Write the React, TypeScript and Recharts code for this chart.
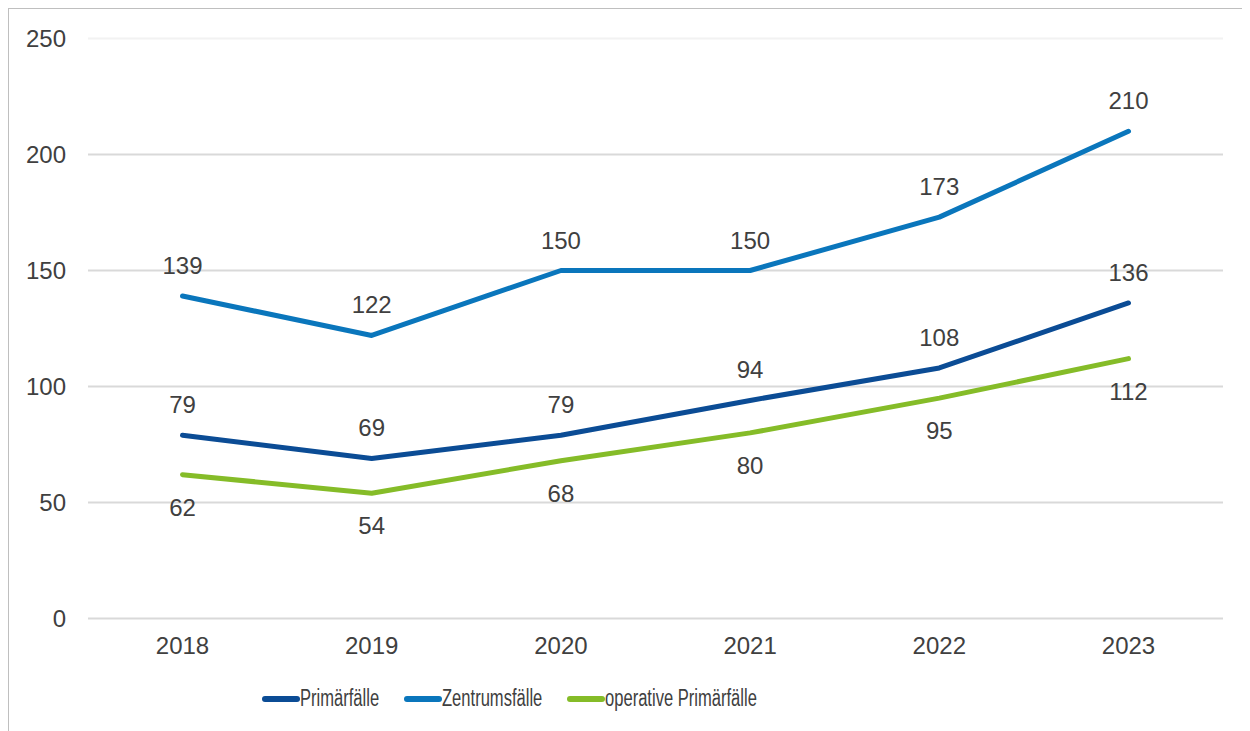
import { LineChart, Line, XAxis, YAxis, CartesianGrid, LabelList } from 'recharts'

// ── Data ───────────────────────────────────────────────────────
const years = ['2018', '2019', '2020', '2021', '2022', '2023']
const primaerfaelle = [79, 69, 79, 94, 108, 136]
const zentrumsfaelle = [139, 122, 150, 150, 173, 210]
const operativePrimaerfaelle = [62, 54, 68, 80, 95, 112]
const yTicks = [0, 50, 100, 150, 200, 250]

const SERIES = [
  { key: 'primaer', name: 'Primärfälle', color: '#0B4C95', labelPos: 'top' as const },
  { key: 'zentrum', name: 'Zentrumsfälle', color: '#0A76BC', labelPos: 'top' as const },
  { key: 'operativ', name: 'operative Primärfälle', color: '#85BC28', labelPos: 'bottom' as const },
]

const data = years.map((year, i) => ({
  year,
  primaer: primaerfaelle[i],
  zentrum: zentrumsfaelle[i],
  operativ: operativePrimaerfaelle[i],
}))

const FONT = '"Liberation Sans", Arial, sans-serif'
const TEXT = '#404040'
const TOP = 29.5

// legend text in the original is horizontally squeezed
const LEGEND_FONT_SIZE = 23
const LEGEND_SCALE = 0.72

function textWidth(text: string) {
  const ctx = document.createElement('canvas').getContext('2d')
  if (!ctx) return text.length * LEGEND_FONT_SIZE * 0.5
  ctx.font = `${LEGEND_FONT_SIZE}px ${FONT}`
  return ctx.measureText(text).width
}

// top gridline is much fainter than the others
function GridLine(props: any) {
  const { x1, y1, x2, y2 } = props
  const faint = Math.abs(y1 - TOP) < 1
  return <line x1={x1} y1={y1} x2={x2} y2={y2} stroke={faint ? '#F2F2F2' : '#D9D9D9'} strokeWidth={2} />
}

function ChartLegend() {
  return (
    <div style={{ position: 'absolute', left: 253, top: 676, display: 'flex', alignItems: 'center', fontFamily: FONT }}>
      {SERIES.map((s) => {
        const w = textWidth(s.name)
        return (
          <div key={s.key} style={{ display: 'flex', alignItems: 'center', marginRight: 25 }}>
            <div style={{ width: 38, height: 6, borderRadius: 3, background: s.color }} />
            <span
              style={{
                display: 'inline-block',
                fontSize: LEGEND_FONT_SIZE,
                color: TEXT,
                transform: `scaleX(${LEGEND_SCALE})`,
                transformOrigin: 'left center',
                whiteSpace: 'nowrap',
                marginRight: -w * (1 - LEGEND_SCALE),
              }}
            >
              {s.name}
            </span>
          </div>
        )
      })}
    </div>
  )
}

export default function App() {
  return (
    <div
      style={{
        position: 'relative',
        width: 1242,
        height: 723,
        boxSizing: 'border-box',
        borderTop: '1px solid #BFBFBF',
        borderLeft: '1px solid #BFBFBF',
        overflow: 'hidden',
        background: '#fff',
      }}
    >
      <LineChart width={1241} height={722} data={data} margin={{ top: TOP, right: 27, left: 19, bottom: 72.5 }}>
        <CartesianGrid vertical={false} horizontal={GridLine} />
        <XAxis
          dataKey="year"
          axisLine={false}
          tickLine={false}
          tickSize={0}
          tickMargin={18}
          height={40}
          padding={{ left: 94.5, right: 94.5 }}
          tick={{ fill: TEXT, fontSize: 24, fontFamily: FONT }}
        />
        <YAxis
          domain={[0, 250]}
          ticks={yTicks}
          axisLine={false}
          tickLine={false}
          tickSize={0}
          tickMargin={22}
          width={60}
          tick={{ fill: TEXT, fontSize: 24, fontFamily: FONT }}
        />
        {SERIES.map((s) => (
          <Line
            key={s.key}
            type="linear"
            dataKey={s.key}
            name={s.name}
            stroke={s.color}
            strokeWidth={5}
            strokeLinecap="round"
            strokeLinejoin="round"
            dot={false}
            activeDot={false}
            isAnimationActive={false}
          >
            <LabelList
              dataKey={s.key}
              position={s.labelPos}
              offset={s.labelPos === 'top' ? 22 : 24}
              fill={TEXT}
              fontSize={24}
              fontFamily={FONT}
            />
          </Line>
        ))}
      </LineChart>
      <ChartLegend />
    </div>
  )
}
